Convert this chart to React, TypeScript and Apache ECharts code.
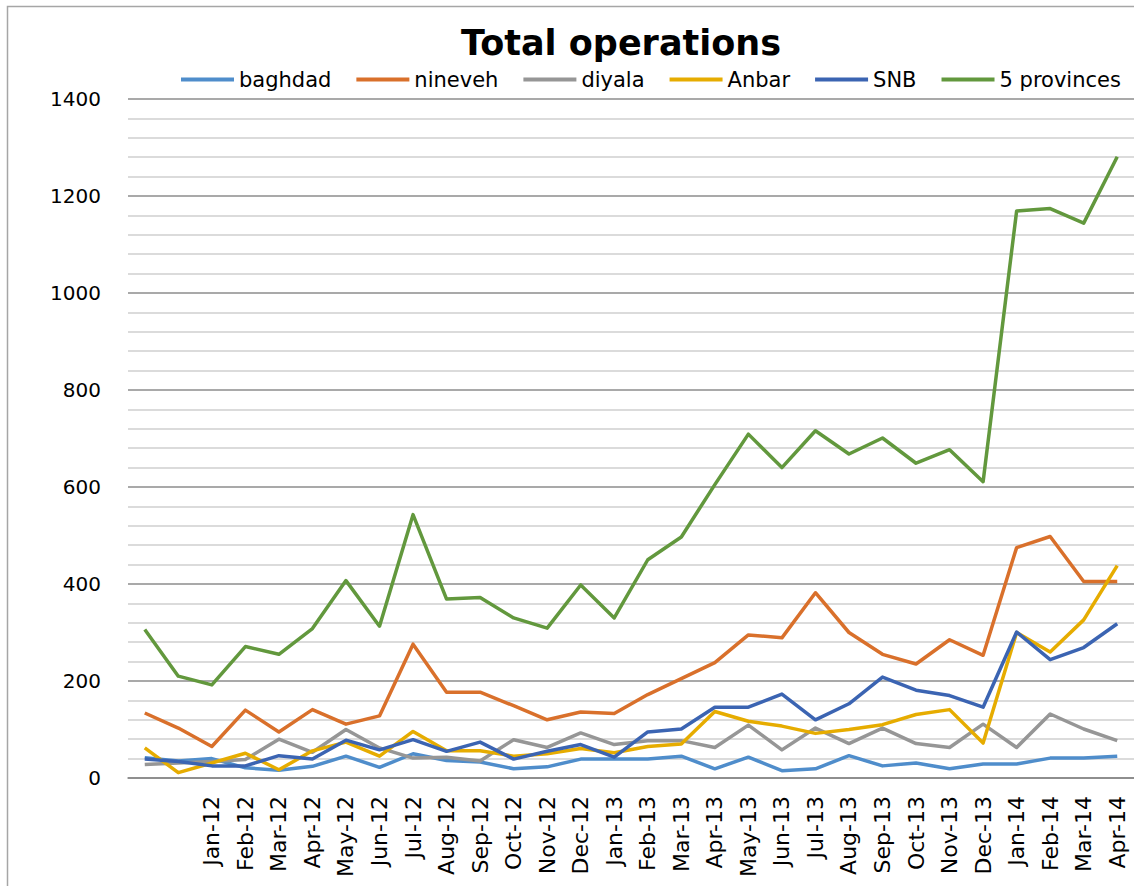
import React, { useEffect, useRef } from "react";
import * as echarts from "echarts";

const categories: string[] = [
  "", "",
  "Jan-12", "Feb-12", "Mar-12", "Apr-12", "May-12", "Jun-12", "Jul-12", "Aug-12", "Sep-12", "Oct-12", "Nov-12", "Dec-12",
  "Jan-13", "Feb-13", "Mar-13", "Apr-13", "May-13", "Jun-13", "Jul-13", "Aug-13", "Sep-13", "Oct-13", "Nov-13", "Dec-13",
  "Jan-14", "Feb-14", "Mar-14", "Apr-14",
];

const baghdad = [42, 35, 40, 21, 16, 24, 45, 22, 50, 36, 33, 19, 23, 39, 39, 39, 45, 19, 43, 15, 19, 46, 25, 31, 19, 29, 29, 41, 41, 45];
const nineveh = [134, 103, 65, 140, 95, 141, 111, 128, 276, 177, 177, 149, 120, 136, 133, 172, 205, 238, 295, 289, 382, 300, 255, 235, 285, 253, 475, 498, 405, 405];
const diyala = [28, 31, 34, 38, 80, 53, 100, 62, 41, 43, 35, 79, 63, 93, 69, 77, 77, 63, 109, 58, 103, 71, 103, 71, 63, 111, 63, 132, 101, 77];
const anbar = [62, 11, 31, 51, 17, 56, 74, 45, 96, 56, 56, 45, 50, 61, 52, 65, 70, 137, 117, 107, 92, 100, 110, 131, 141, 72, 300, 260, 326, 438];
const snb = [39, 34, 25, 25, 46, 39, 78, 58, 79, 55, 74, 39, 55, 69, 43, 95, 101, 146, 146, 173, 120, 153, 208, 181, 170, 146, 301, 244, 269, 318];
const fiveProvinces = [306, 210, 192, 271, 255, 308, 407, 313, 543, 369, 372, 330, 309, 398, 330, 450, 497, 605, 709, 640, 716, 668, 701, 649, 677, 611, 1169, 1174, 1144, 1281];

const seriesNames = ["baghdad", "nineveh", "diyala", "Anbar", "SNB", "5 provinces"];
const seriesColors = ["#4F8DCB", "#D9702B", "#969696", "#E6AC00", "#3B64B2", "#62983D"];
const seriesData = [baghdad, nineveh, diyala, anbar, snb, fiveProvinces];

const FONT = "DejaVu Sans";

export default function App() {
  const ref = useRef<HTMLDivElement>(null);
  useEffect(() => {
    if (!ref.current) return;
    const chart = echarts.init(ref.current, undefined, { renderer: "svg" });
    chart.setOption({
      animation: false,
      backgroundColor: "#ffffff",
      title: {
        text: "Total operations",
        left: 616,
        top: 20,
        textAlign: "center",
        textStyle: { fontFamily: FONT, fontWeight: "bold", fontSize: 35, color: "#000" },
      },
      legend: {
        left: 176,
        top: 64,
        icon: "rect",
        itemWidth: 53,
        itemHeight: 4,
        itemGap: 25,
        textStyle: { fontFamily: FONT, fontSize: 21, color: "#000" },
        data: seriesNames,
      },
      graphic: [
        {
          type: "rect",
          shape: { x: 7.5, y: 6.5, width: 1300, height: 1000 },
          style: { fill: "none", stroke: "#a6a6a6", lineWidth: 1.5 },
          silent: true,
        },
      ],
      grid: { left: 128, right: -9, top: 99, bottom: 108, containLabel: false },
      xAxis: {
        type: "category",
        data: categories,
        boundaryGap: true,
        axisLine: { show: true, lineStyle: { color: "#868686", width: 1.5 } },
        axisTick: { show: false },
        axisLabel: {
          interval: 0,
          rotate: 90,
          margin: 18,
          fontFamily: FONT,
          fontSize: 22,
          color: "#000",
        },
        splitLine: { show: false },
      },
      yAxis: {
        type: "value",
        min: 0,
        max: 1400,
        interval: 200,
        axisLine: { show: false },
        axisTick: { show: false },
        axisLabel: {
          margin: 27,
          fontFamily: FONT,
          fontSize: 20,
          color: "#000",
          formatter: (v: number) => String(v),
        },
        splitLine: { show: true, lineStyle: { color: "#8c8c8c", width: 1.5 } },
        minorTick: { show: false, splitNumber: 5 },
        minorSplitLine: { show: true, lineStyle: { color: "#cfcfcf", width: 1.5 } },
      },
      series: seriesNames.map((name, i) => ({
        name,
        type: "line",
        data: seriesData[i],
        symbol: "none",
        smooth: false,
        color: seriesColors[i],
        lineStyle: { color: seriesColors[i], width: 3.5, join: "round" },
        emphasis: { disabled: true },
      })),
    });
    return () => chart.dispose();
  }, []);
  return (
    <div
      ref={ref}
      style={{ position: "absolute", left: 0, top: 0, width: 1134, height: 886 }}
    />
  );
}
